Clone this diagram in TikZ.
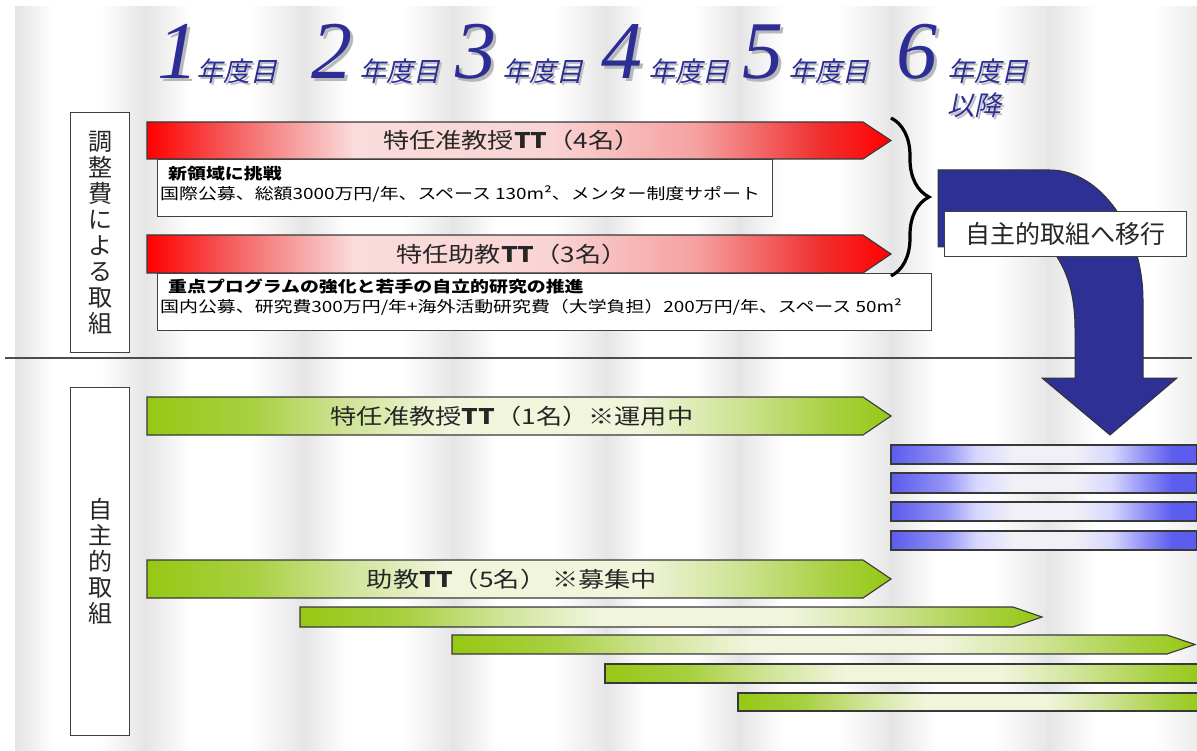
\documentclass[tikz,border=0pt]{standalone}
\usepackage{fontspec}
\setmainfont{Liberation Serif}
\newfontfamily\jp{Noto Sans CJK JP}[FakeStretch=1.22]
\newfontfamily\jpv{Noto Sans CJK JP}
\newfontfamily\jpi{Noto Sans CJK JP}[FakeSlant=0.22]
\newfontfamily\numf{Liberation Serif}
\usetikzlibrary{decorations.pathreplacing}

\definecolor{hdrblue}{RGB}{44,46,150}
\definecolor{navy}{RGB}{46,48,148}
\definecolor{colgray}{RGB}{228,228,228}
\definecolor{r1}{RGB}{245,100,100}
\definecolor{r2}{RGB}{250,220,220}
\definecolor{r3}{RGB}{250,212,212}
\definecolor{r4}{RGB}{245,160,160}
\definecolor{r5}{RGB}{240,50,50}
\definecolor{gbar}{RGB}{150,200,20}
\definecolor{g1}{RGB}{168,208,65}
\definecolor{g2}{RGB}{205,226,145}
\definecolor{gw}{RGB}{240,245,220}
\definecolor{bbar}{RGB}{92,92,238}
\definecolor{b1}{RGB}{150,150,246}
\definecolor{bp}{RGB}{215,215,255}
\definecolor{bw}{RGB}{240,240,246}

\pgfdeclarehorizontalshading{redbar}{100bp}{color(0bp)=(red); color(25bp)=(red); color(31bp)=(r1); color(39bp)=(r2); color(52bp)=(r3); color(62bp)=(r4); color(70bp)=(r5); color(75bp)=(red); color(100bp)=(red)}
\pgfdeclarehorizontalshading{greenbar}{100bp}{color(0bp)=(gbar); color(25bp)=(gbar); color(32bp)=(g1); color(38bp)=(g2); color(45bp)=(gw); color(58bp)=(gw); color(65bp)=(g2); color(71bp)=(g1); color(75bp)=(gbar); color(100bp)=(gbar)}
\pgfdeclarehorizontalshading{bluebar}{100bp}{color(0bp)=(bbar); color(25bp)=(bbar); color(29bp)=(bbar!85!white); color(34bp)=(b1); color(39bp)=(bp); color(45bp)=(bw); color(55bp)=(bw); color(61bp)=(bp); color(66bp)=(b1); color(71bp)=(bbar); color(75bp)=(bbar); color(100bp)=(bbar)}
\pgfdeclarehorizontalshading{colsh}{100bp}{color(0bp)=(colgray); color(25bp)=(colgray); color(40bp)=(white); color(58bp)=(white); color(75bp)=(colgray!90); color(100bp)=(colgray!90)}

\newcommand{\tbar}[6]{\shadedraw[shading=#1, barline] (#2,#3) -- (#4,#3) -- (#5,{(#3+#6)/2}) -- (#4,#6) -- (#2,#6) -- cycle;}
\newcommand{\hdr}[4]{%
  \node[numsh] (#1s) at ({#2+3},82) {#3};
  \node[num] (#1) at (#2,79) {#3};
  \node[nensh] (#1ns) at ({#4+2},84) {年度目};
  \node[nen] (#1n) at (#4,82) {年度目};}

\begin{document}
\begin{tikzpicture}[x=1pt,y=-1pt,
  barline/.style={draw=black!78, line width=1.1pt},
  boxst/.style={draw=black!75, line width=1.1pt, fill=white, inner sep=0pt},
  lbl/.style={font=\jp\fontsize{21.5}{24}\selectfont, text=black!85, inner sep=0pt},
  dsc/.style={font=\jp\fontsize{15.5}{18}\selectfont, inner sep=0pt, anchor=base west},
  num/.style={font=\numf\itshape\fontsize{82}{82}\selectfont, inner sep=0pt, anchor=base west, text=hdrblue},
  numsh/.style={num, text=black!28},
  nen/.style={font=\jpi\fontsize{27}{30}\selectfont, text=hdrblue, inner sep=0pt, anchor=base west},
  nensh/.style={nen, text=black!25},
  vtext/.style={font=\jpv\fontsize{24}{26}\selectfont, align=center, inner sep=0pt, text=black!85},
]
\useasboundingbox (0,0) rectangle (1197,751);
\clip (0,0) rectangle (1197,751);
\fill[white] (0,0) rectangle (1197,751);

% background columns
\foreach \a/\b in {15/143,143/302,302/452,452/605,605/738,738/890,890/1047,1047/1210}
  \shade[shading=colsh] (\a,7) rectangle (\b,760);

% header
\hdr{y1}{157}{1}{196}
\hdr{y2}{311}{2}{359}
\hdr{y3}{455}{3}{502}
\hdr{y4}{601}{4}{648}
\hdr{y5}{742}{5}{788}
\hdr{y6}{896}{6}{947}
\node[nensh] (y6bs) at (949,118) {以降};
\node[nen] (y6b) at (947,116) {以降};

% separator
\draw[black!70, line width=1pt] (5,358) -- (1192,358);

% left category boxes
\node[boxst, minimum width=59pt, minimum height=240pt, anchor=north west] (lb1) at (70,112) {};
\node[vtext] (lt1) at (lb1.center) {調\\整\\費\\に\\よ\\る\\取\\組};
\node[boxst, minimum width=59pt, minimum height=348pt, anchor=north west] (lb2) at (70,387) {};
\node[vtext] (lt2) at (lb2.center) {自\\主\\的\\取\\組};

% red arrows
\tbar{redbar}{147}{122}{863}{891}{159}
\node[lbl] (ra1) at (512,140.5) {特任准教授{\bfseries TT}（4名）};
\node[boxst, minimum width=615pt, minimum height=57pt, anchor=north west] (d1) at (157,159) {};
\node[dsc] (d1a) at (168,180) {\bfseries 新領域に挑戦};
\node[dsc] (d1b) at (160,200) {国際公募、総額3000万円/年、スペース 130m²、メンター制度サポート};

\tbar{redbar}{147}{235}{863}{891}{273}
\node[lbl] (ra2) at (512,254) {特任助教{\bfseries TT}（3名）};
\node[boxst, minimum width=774pt, minimum height=57pt, anchor=north west] (d2) at (157,273) {};
\node[dsc] (d2a) at (168,293) {\bfseries 重点プログラムの強化と若手の自立的研究の推進};
\node[dsc] (d2b) at (160,313) {国内公募、研究費300万円/年+海外活動研究費（大学負担）200万円/年、スペース 50m²};

% brace
\coordinate (brtop) at (891,118);
\coordinate (brbot) at (891,276);
\draw[decorate, decoration={brace, amplitude=38pt}, line width=3.2pt] (brtop) -- (brbot);

% blue curved arrow
\filldraw[fill=navy, draw=black!80, line width=1pt]
  (938,170) -- (1050,170) .. controls (1100,170) and (1143,230) .. (1143,300)
  -- (1143,378) -- (1177,378) -- (1110,435) -- (1042,378) -- (1075,378) -- (1075,330)
  .. controls (1075,295) and (1068,270) .. (1050,247) -- (938,247) -- cycle;
\node[boxst, minimum width=242pt, minimum height=45pt, anchor=north west] (mv) at (944,211) {};
\node[font=\jpv\fontsize{25}{28}\selectfont, text=black!85, inner sep=0pt] (mvt) at (mv.center) {自主的取組へ移行};

% green arrows
\tbar{greenbar}{147}{397}{863}{891}{435}
\node[lbl] (ga1) at (512,416) {特任准教授{\bfseries TT}（1名）※運用中};
\tbar{greenbar}{147}{560}{863}{891}{598}
\node[lbl] (ga2) at (512,579) {助教{\bfseries TT}（5名） ※募集中};

% blue bars
\foreach \t/\b in {445/464,473/493,502/521,531/550}
  \shadedraw[shading=bluebar, barline] (891,\t) rectangle (1197,\b);

% small green bars
\tbar{greenbar}{300}{607}{1013}{1042}{627}
\tbar{greenbar}{452}{635}{1167}{1195}{654}
\shadedraw[shading=greenbar, barline] (605,664) rectangle (1205,683);
\shadedraw[shading=greenbar, barline] (738,693) rectangle (1205,711);
\end{tikzpicture}
\end{document}
